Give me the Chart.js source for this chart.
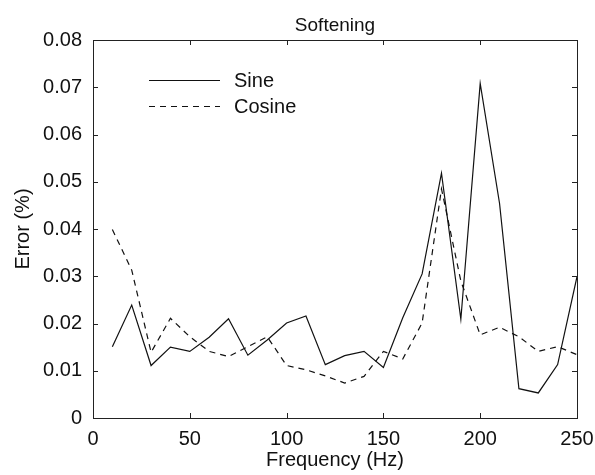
<!DOCTYPE html>
<html>
<head>
<meta charset="utf-8">
<script src="https://cdn.jsdelivr.net/npm/chart.js@4.4.0/dist/chart.umd.min.js"></script>
<style>
  html, body { margin: 0; padding: 0; background: #fff; }
  #wrap { width: 595px; height: 475px; }
</style>
</head>
<body>
<div id="wrap"><canvas id="chart" width="595" height="475"></canvas></div>
<script>
  // Frequency points (Hz)
  const freqs = [10, 20, 30, 40, 50, 60, 70, 80, 90, 100, 110, 120, 130,
                 140, 150, 160, 170, 180, 190, 200, 210, 220, 230, 240, 250];

  // Error (%)
  const sineErr = [0.0151, 0.0239, 0.0111, 0.0150, 0.0141, 0.0171, 0.0210, 0.0133, 0.0165,
                   0.0201, 0.0216, 0.0113, 0.0132, 0.0141, 0.0107, 0.0212, 0.0305, 0.0518,
                   0.0209, 0.0708, 0.0454, 0.0062, 0.0053, 0.0113, 0.0299];
  const cosineErr = [0.0399, 0.0313, 0.0139, 0.0211, 0.0172, 0.0141, 0.0130, 0.0151, 0.0172,
                     0.0111, 0.0102, 0.0089, 0.0074, 0.0088, 0.0141, 0.0125, 0.0201, 0.0485,
                     0.0290, 0.0176, 0.0192, 0.0172, 0.0141, 0.0151, 0.0134];

  const xTicks = [0, 50, 100, 150, 200, 250];
  const yTicks = [0, 0.01, 0.02, 0.03, 0.04, 0.05, 0.06, 0.07, 0.08];

  const FONT = 'Liberation Sans, Arial, Helvetica, sans-serif';
  const INK = '#111';

  function toPoints(xs, ys) {
    return xs.map(function (x, i) { return { x: x, y: ys[i] }; });
  }

  // Title centred over the axes rather than the whole canvas
  const plotTitle = {
    id: 'plotTitle',
    afterDraw: function (chart) {
      const ctx = chart.ctx;
      const a = chart.chartArea;
      ctx.save();
      ctx.font = '19px ' + FONT;
      ctx.fillStyle = INK;
      ctx.textAlign = 'center';
      ctx.textBaseline = 'alphabetic';
      ctx.fillText('Softening', (a.left + a.right) / 2, a.top - 9);
      ctx.restore();
    }
  };

  // Box around the plot with inward ticks on all four sides (MATLAB look)
  const frameTicks = {
    id: 'frameTicks',
    afterDatasetsDraw: function (chart) {
      const ctx = chart.ctx;
      const a = chart.chartArea;
      const xs = chart.scales.x, ys = chart.scales.y;
      const len = 5;
      ctx.save();
      ctx.strokeStyle = '#222';
      ctx.lineWidth = 1;
      ctx.strokeRect(Math.round(a.left) + 0.5, Math.round(a.top) + 0.5,
                     Math.round(a.right - a.left), Math.round(a.bottom - a.top));
      ctx.beginPath();
      xTicks.forEach(function (v) {
        const px = Math.round(xs.getPixelForValue(v)) + 0.5;
        ctx.moveTo(px, a.bottom); ctx.lineTo(px, a.bottom - len);
        ctx.moveTo(px, a.top); ctx.lineTo(px, a.top + len);
      });
      yTicks.forEach(function (v) {
        const py = Math.round(ys.getPixelForValue(v)) + 0.5;
        ctx.moveTo(a.left, py); ctx.lineTo(a.left + len, py);
        ctx.moveTo(a.right, py); ctx.lineTo(a.right - len, py);
      });
      ctx.stroke();
      ctx.restore();
    }
  };

  // Legend drawn inside the axes, no box
  const innerLegend = {
    id: 'innerLegend',
    afterDatasetsDraw: function (chart) {
      const ctx = chart.ctx;
      const a = chart.chartArea;
      ctx.save();
      ctx.font = '20px ' + FONT;
      ctx.textBaseline = 'middle';
      ctx.fillStyle = INK;
      chart.data.datasets.forEach(function (ds, i) {
        const y = a.top + 40 + i * 26;
        const x0 = a.left + 56;
        ctx.beginPath();
        ctx.strokeStyle = ds.borderColor;
        ctx.lineWidth = ds.borderWidth;
        ctx.setLineDash(ds.borderDash || []);
        ctx.moveTo(x0, y + 0.5);
        ctx.lineTo(x0 + 71, y + 0.5);
        ctx.stroke();
        ctx.setLineDash([]);
        ctx.fillText(ds.label, x0 + 85, y + 1);
      });
      ctx.restore();
    }
  };

  new Chart(document.getElementById('chart'), {
    type: 'line',
    data: {
      datasets: [
        {
          label: 'Sine',
          data: toPoints(freqs, sineErr),
          borderColor: '#111',
          borderWidth: 1.2,
          pointRadius: 0,
          tension: 0,
          fill: false
        },
        {
          label: 'Cosine',
          data: toPoints(freqs, cosineErr),
          borderColor: '#111',
          borderWidth: 1.2,
          borderDash: [6, 5],
          pointRadius: 0,
          tension: 0,
          fill: false
        }
      ]
    },
    options: {
      responsive: false,
      animation: false,
      layout: { padding: { left: 0, right: 18, top: 40, bottom: 0 } },
      plugins: {
        legend: { display: false },
        tooltip: { enabled: false },
        title: { display: false }
      },
      scales: {
        x: {
          type: 'linear',
          min: 0,
          max: 250,
          afterBuildTicks: function (s) { s.ticks = xTicks.map(function (v) { return { value: v }; }); },
          afterFit: function (s) { s.height = 57; s.paddingLeft = 0; s.paddingRight = 0; },
          grid: { display: false, drawTicks: false },
          border: { display: false },
          ticks: {
            color: INK,
            font: { family: FONT, size: 20 },
            padding: 9,
            maxRotation: 0
          },
          title: {
            display: true,
            text: 'Frequency (Hz)',
            color: INK,
            font: { family: FONT, size: 20 },
            padding: { top: 0, bottom: 3 }
          }
        },
        y: {
          type: 'linear',
          min: 0,
          max: 0.08,
          afterBuildTicks: function (s) { s.ticks = yTicks.map(function (v) { return { value: v }; }); },
          afterFit: function (s) { s.width = 93; s.paddingTop = 0; s.paddingBottom = 0; },
          grid: { display: false, drawTicks: false },
          border: { display: false },
          ticks: {
            color: INK,
            font: { family: FONT, size: 20 },
            padding: 11,
            callback: function (v) { return v === 0 ? '0' : v.toFixed(2); }
          },
          title: {
            display: true,
            text: 'Error (%)',
            color: INK,
            font: { family: FONT, size: 20 },
            padding: { top: 11, bottom: 0 }
          }
        }
      }
    },
    plugins: [plotTitle, frameTicks, innerLegend]
  });
</script>
</body>
</html>
